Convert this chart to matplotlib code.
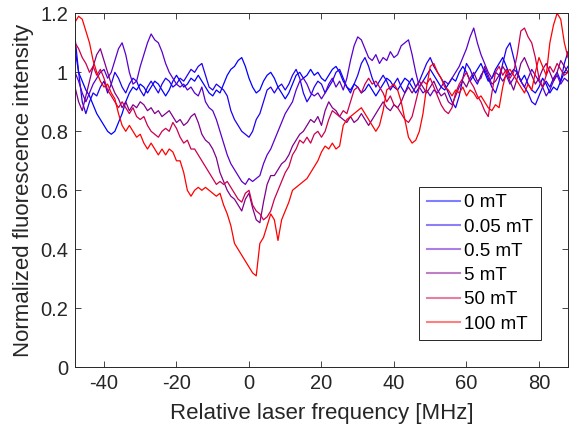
import numpy as np
import matplotlib
matplotlib.use("Agg")
import matplotlib.pyplot as plt

plt.rcParams['font.family'] = ['Liberation Sans', 'DejaVu Sans']
plt.rcParams['axes.unicode_minus'] = False

# Laser detuning grid, 1 MHz steps from -48 to 88 MHz
freq_mhz = np.arange(-48, 89, 1)

field_labels = ["0 mT", "0.05 mT", "0.5 mT", "5 mT", "50 mT", "100 mT"]
field_colors = [(0.0, 0.0, 1.0), (0.12, 0.0, 0.95), (0.35, 0.0, 0.8),
                (0.5, 0.0, 0.55), (0.8, 0.0, 0.3), (1.0, 0.0, 0.0)]

fl_0mT = [
    1.08, 1.00, 0.97, 0.94, 0.92, 0.89, 0.86, 0.84, 0.82, 0.80, 0.79, 0.80, 0.83, 0.86, 0.90, 0.93,
    0.95, 0.94, 0.96, 0.95, 0.93, 0.95, 0.97, 0.96, 0.94, 0.92, 0.94, 0.97, 0.99, 0.97, 0.95, 0.96,
    0.98, 0.97, 0.99, 0.97, 0.95, 0.93, 0.92, 0.94, 0.93, 0.96, 0.99, 1.01, 1.02, 1.04, 1.05, 1.02,
    0.98, 0.95, 0.93, 0.94, 0.97, 0.99, 1.00, 0.98, 0.95, 0.93, 0.91, 0.93, 0.96, 0.99, 1.00, 0.98,
    0.99, 1.01, 0.99, 1.00, 0.98, 0.97, 0.99, 1.01, 1.02, 1.00, 0.97, 0.95, 0.94, 0.96, 0.95, 0.93,
    0.94, 0.96, 0.94, 0.92, 0.94, 0.96, 0.98, 0.97, 0.95, 0.94, 0.96, 0.98, 0.97, 0.95, 0.93, 0.95,
    0.97, 0.99, 1.01, 0.99, 0.97, 0.95, 0.94, 0.96, 0.98, 0.97, 1.00, 1.02, 1.00, 0.97, 0.99, 1.01,
    1.03, 1.00, 0.97, 0.98, 1.01, 1.03, 1.05, 1.02, 0.99, 1.01, 1.00, 0.97, 0.99, 0.96, 0.94, 0.93,
    0.95, 0.98, 0.96, 0.93, 0.95, 0.94, 0.97, 1.00, 1.02,
]

fl_005mT = [
    1.12, 1.00, 0.90, 0.86, 0.90, 0.93, 0.92, 0.95, 0.97, 0.93, 0.96, 1.00, 0.98, 0.95, 0.93, 0.96,
    0.98, 0.97, 0.94, 0.92, 0.95, 0.97, 0.95, 0.93, 0.96, 0.98, 0.97, 0.95, 0.96, 0.98, 0.97, 0.99,
    1.01, 1.00, 1.02, 1.03, 0.99, 0.95, 0.94, 0.96, 0.95, 0.94, 0.92, 0.87, 0.84, 0.82, 0.80, 0.79,
    0.78, 0.80, 0.84, 0.86, 0.90, 0.94, 0.95, 0.93, 0.95, 0.96, 0.94, 0.96, 0.99, 1.01, 0.98, 0.93,
    0.90, 0.92, 0.95, 0.97, 0.96, 0.93, 0.95, 0.97, 1.00, 1.01, 0.98, 0.95, 0.93, 0.96, 0.99, 1.03,
    1.05, 1.02, 0.98, 0.95, 0.97, 0.99, 0.97, 0.94, 0.96, 0.98, 0.95, 0.93, 0.96, 0.98, 0.95, 0.97,
    1.00, 1.03, 1.05, 1.02, 1.00, 0.98, 0.96, 0.93, 0.90, 0.88, 0.92, 0.98, 1.03, 1.01, 0.98, 0.96,
    0.99, 1.01, 0.98, 0.95, 0.93, 0.97, 1.03, 1.08, 1.10, 1.05, 1.00, 0.97, 0.95, 0.93, 0.90, 0.89,
    0.92, 0.95, 0.97, 0.95, 0.98, 1.00, 0.97, 1.03, 1.07,
]

fl_05mT = [
    1.00, 0.97, 0.93, 0.90, 0.93, 0.96, 0.98, 1.00, 1.01, 0.98, 1.00, 1.04, 1.08, 1.10, 1.06, 1.00,
    0.96, 0.97, 1.02, 1.06, 1.10, 1.13, 1.11, 1.10, 1.07, 1.03, 1.00, 0.98, 0.96, 0.95, 0.96, 0.94,
    0.95, 0.93, 0.92, 0.95, 0.90, 0.88, 0.87, 0.84, 0.80, 0.76, 0.72, 0.69, 0.67, 0.65, 0.63, 0.62,
    0.64, 0.63, 0.64, 0.65, 0.69, 0.72, 0.74, 0.77, 0.80, 0.83, 0.86, 0.88, 0.90, 0.94, 0.97, 0.98,
    0.96, 0.93, 0.92, 0.93, 0.91, 0.93, 0.96, 0.98, 0.95, 0.97, 0.94, 0.98, 1.04, 1.09, 1.12, 1.11,
    1.08, 1.05, 1.04, 1.06, 1.03, 1.05, 1.04, 1.07, 1.05, 1.06, 1.09, 1.10, 1.11, 1.06, 1.00, 0.95,
    0.93, 0.94, 0.92, 0.94, 0.93, 0.95, 0.97, 0.96, 0.98, 1.00, 1.02, 1.05, 1.08, 1.12, 1.15, 1.10,
    1.06, 1.03, 1.00, 0.98, 1.00, 0.99, 0.97, 0.99, 0.96, 0.98, 1.00, 0.97, 0.95, 0.98, 1.01, 0.99,
    0.97, 0.95, 0.92, 0.94, 0.97, 0.99, 0.96, 0.98, 0.97,
]

fl_5mT = [
    0.95, 0.90, 0.87, 0.92, 0.97, 1.02, 1.06, 1.08, 1.04, 1.00, 0.96, 0.93, 0.91, 0.88, 0.90, 0.87,
    0.89, 0.88, 0.90, 0.89, 0.87, 0.88, 0.86, 0.87, 0.85, 0.86, 0.87, 0.85, 0.83, 0.84, 0.82, 0.83,
    0.85, 0.86, 0.83, 0.79, 0.77, 0.76, 0.74, 0.71, 0.66, 0.63, 0.60, 0.58, 0.57, 0.55, 0.53, 0.57,
    0.59, 0.54, 0.50, 0.49, 0.56, 0.62, 0.65, 0.65, 0.67, 0.69, 0.70, 0.72, 0.75, 0.77, 0.79, 0.80,
    0.82, 0.84, 0.83, 0.85, 0.82, 0.87, 0.90, 0.88, 0.87, 0.85, 0.84, 0.83, 0.85, 0.83, 0.84, 0.86,
    0.84, 0.82, 0.84, 0.86, 0.88, 0.90, 0.88, 0.87, 0.89, 0.88, 0.90, 0.93, 0.95, 0.93, 0.95, 0.97,
    0.95, 0.93, 0.95, 0.97, 0.94, 0.92, 0.93, 0.90, 0.89, 0.92, 0.95, 0.97, 0.95, 0.98, 1.00, 0.97,
    0.98, 1.02, 0.99, 0.96, 0.97, 0.99, 1.02, 1.00, 0.97, 0.94, 0.98, 1.03, 1.05, 1.02, 0.99, 0.96,
    0.98, 1.01, 1.03, 1.00, 0.97, 1.00, 1.04, 1.02, 1.00,
]

fl_50mT = [
    1.10, 1.08, 1.05, 1.03, 1.00, 1.02, 0.99, 1.01, 0.98, 0.94, 0.92, 0.90, 0.88, 0.90, 0.88, 0.86,
    0.88, 0.85, 0.84, 0.85, 0.82, 0.80, 0.79, 0.78, 0.80, 0.81, 0.80, 0.83, 0.81, 0.78, 0.76, 0.77,
    0.74, 0.74, 0.72, 0.70, 0.68, 0.66, 0.64, 0.62, 0.63, 0.62, 0.63, 0.61, 0.59, 0.57, 0.56, 0.59,
    0.60, 0.55, 0.53, 0.52, 0.50, 0.51, 0.53, 0.57, 0.60, 0.63, 0.66, 0.68, 0.72, 0.74, 0.77, 0.76,
    0.78, 0.76, 0.79, 0.80, 0.78, 0.80, 0.84, 0.87, 0.86, 0.85, 0.87, 0.86, 0.90, 0.94, 0.95, 0.93,
    0.96, 0.98, 0.96, 0.97, 0.95, 0.93, 0.90, 0.92, 0.89, 0.88, 0.86, 0.84, 0.83, 0.85, 0.90, 0.95,
    0.97, 0.96, 0.98, 0.95, 0.92, 0.89, 0.87, 0.86, 0.88, 0.93, 0.96, 0.98, 1.00, 0.97, 0.95, 0.92,
    0.90, 0.87, 0.85, 0.93, 1.00, 1.02, 0.99, 1.01, 0.98, 1.00, 1.06, 1.14, 1.15, 1.12, 1.10, 1.05,
    0.98, 0.95, 0.99, 1.02, 1.00, 1.03, 1.01, 0.99, 1.00,
]

fl_100mT = [
    1.17, 1.19, 1.18, 1.14, 1.10, 1.04, 1.00, 0.97, 0.95, 0.96, 0.93, 0.91, 0.86, 0.82, 0.80, 0.82,
    0.80, 0.78, 0.79, 0.76, 0.74, 0.76, 0.74, 0.72, 0.74, 0.72, 0.74, 0.73, 0.70, 0.70, 0.66, 0.60,
    0.58, 0.60, 0.61, 0.60, 0.61, 0.60, 0.59, 0.58, 0.59, 0.55, 0.52, 0.48, 0.42, 0.40, 0.38, 0.36,
    0.34, 0.32, 0.31, 0.42, 0.44, 0.48, 0.52, 0.50, 0.43, 0.50, 0.53, 0.56, 0.60, 0.61, 0.62, 0.63,
    0.64, 0.66, 0.68, 0.70, 0.73, 0.75, 0.74, 0.76, 0.74, 0.75, 0.82, 0.84, 0.85, 0.86, 0.87, 0.88,
    0.86, 0.84, 0.82, 0.80, 0.82, 0.87, 0.94, 0.95, 0.96, 0.94, 0.90, 0.84, 0.78, 0.76, 0.77, 0.80,
    0.86, 0.95, 1.02, 1.03, 1.00, 0.98, 0.95, 0.94, 0.92, 0.94, 0.93, 0.95, 0.92, 0.94, 0.93, 0.91,
    0.92, 0.90, 0.88, 0.87, 0.89, 0.88, 0.95, 1.00, 1.01, 0.99, 0.97, 0.95, 0.93, 0.96, 0.94, 1.00,
    1.05, 1.02, 0.99, 1.10, 1.16, 1.20, 1.18, 1.10, 1.05,
]

series = [fl_0mT, fl_005mT, fl_05mT, fl_5mT, fl_50mT, fl_100mT]

x_ticks = [-40, -20, 0, 20, 40, 60, 80]
y_ticks = [0, 0.2, 0.4, 0.6, 0.8, 1.0, 1.2]
y_tick_labels = ["0", "0.2", "0.4", "0.6", "0.8", "1", "1.2"]

axis_grey = "#262626"

fig = plt.figure(figsize=(5.69, 4.28), dpi=100)
ax = fig.add_axes([0.1318, 0.1418, 0.8664, 0.8271])

for vals, col, lab in zip(series, field_colors, field_labels):
    ax.plot(freq_mhz, vals, color=col, lw=0.9, label=lab)

ax.set_xlim(-48, 88)
ax.set_ylim(0, 1.2)
ax.set_xticks(x_ticks)
ax.set_yticks(y_ticks)
ax.set_yticklabels(y_tick_labels)
ax.tick_params(direction="in", top=True, right=True, length=4, width=0.6,
               labelsize=14.5, colors=axis_grey, pad=5)
for sp in ax.spines.values():
    sp.set_color(axis_grey)
    sp.set_linewidth(0.7)

ax.set_xlabel("Relative laser frequency [MHz]", fontsize=16, color=axis_grey, labelpad=7)
ax.set_ylabel("Normalized fluorescence intensity", fontsize=16, color=axis_grey, labelpad=4)

leg = ax.legend(loc="lower left", bbox_to_anchor=(0.7364, 0.2056),
                bbox_transform=fig.transFigure, fontsize=13.5, frameon=True,
                fancybox=False, framealpha=1, edgecolor=axis_grey,
                handlelength=1.8, handletextpad=0.2, labelspacing=0.38,
                borderpad=0.4, borderaxespad=0)
leg.get_frame().set_linewidth(0.7)
for h in leg.get_lines():
    h.set_alpha(0.5)
    h.set_linewidth(1.5)

fig.savefig("out.png", dpi=100)
